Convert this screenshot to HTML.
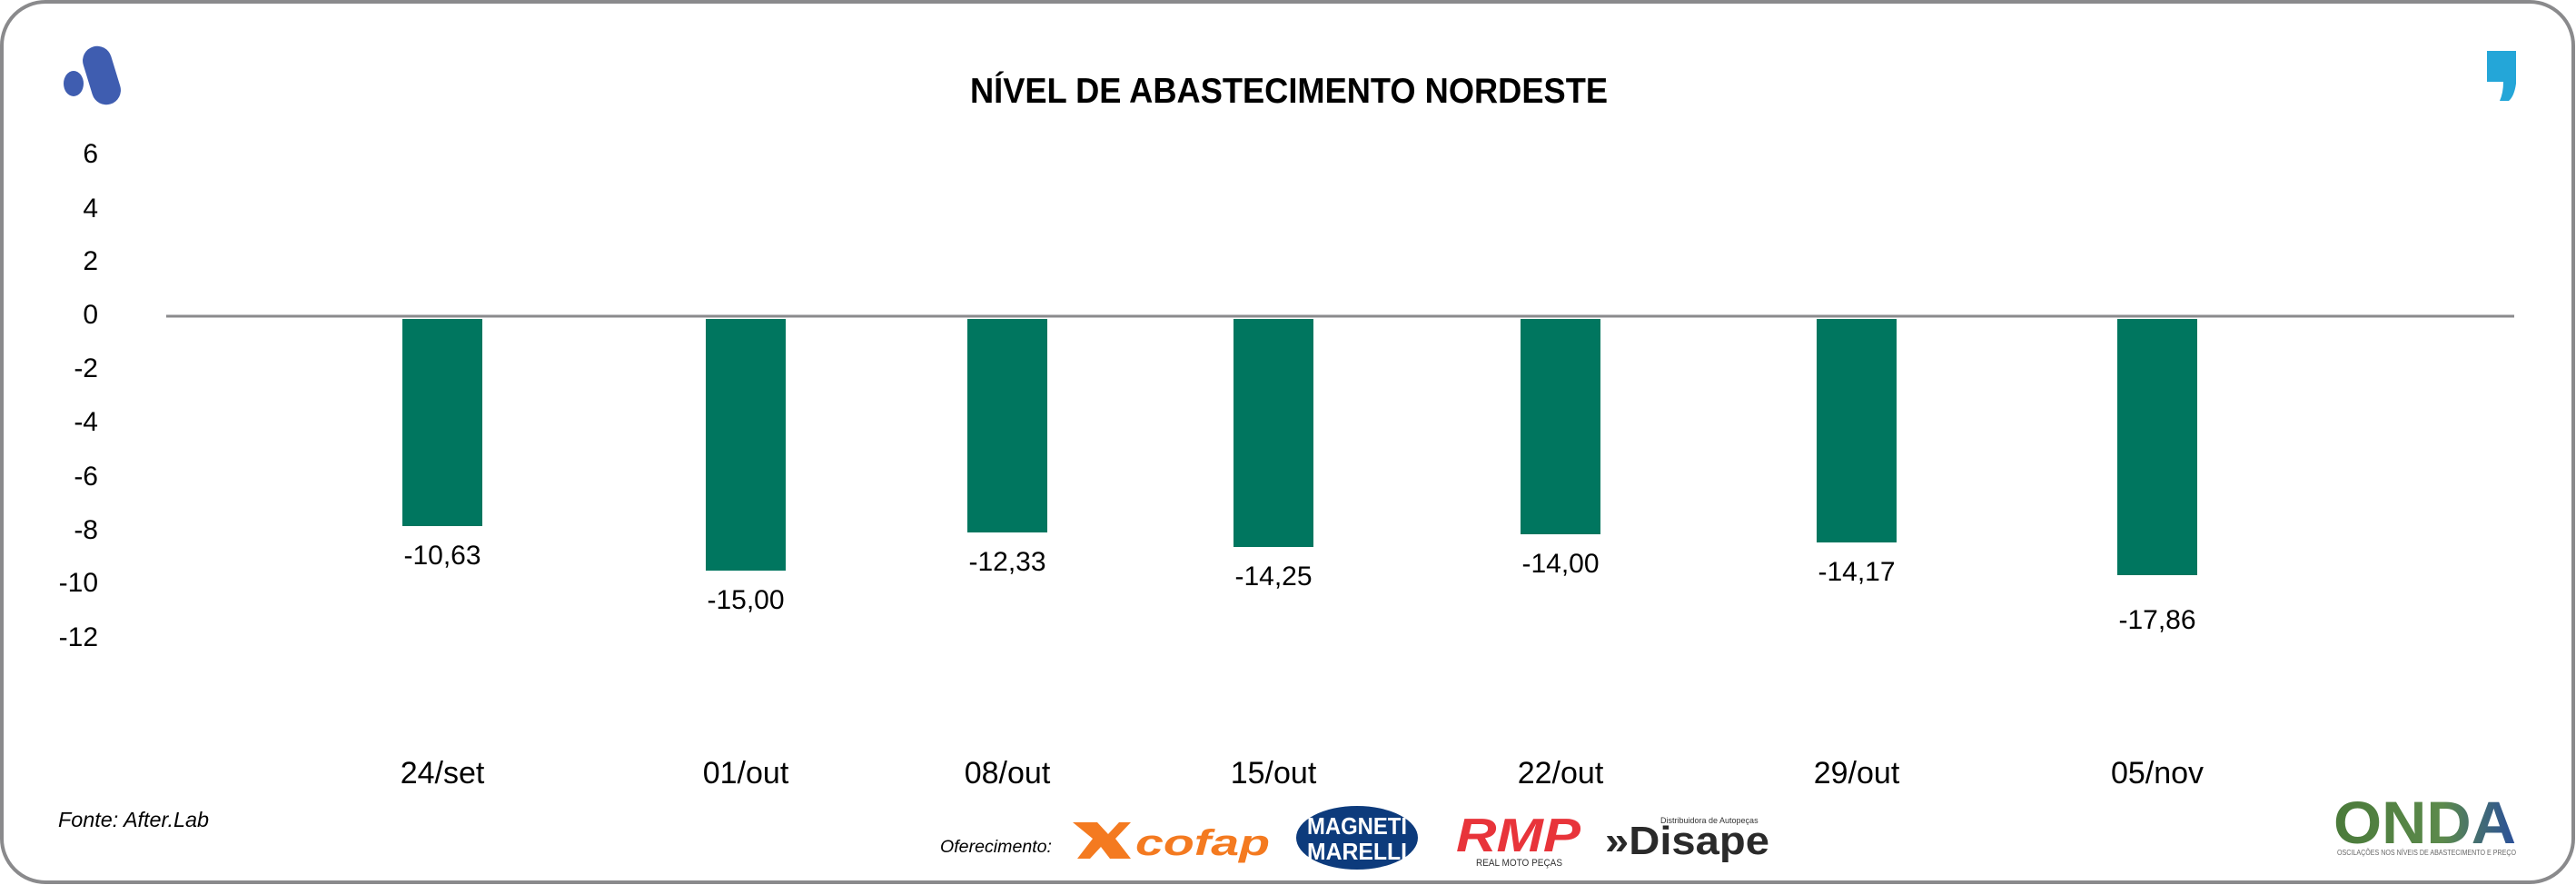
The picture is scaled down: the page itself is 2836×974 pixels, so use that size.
<!DOCTYPE html>
<html><head><meta charset="utf-8"><style>html,body{margin:0;padding:0;background:#fff}svg{display:block}</style></head>
<body>
<svg width="2836" height="974" viewBox="0 0 2836 974" xmlns="http://www.w3.org/2000/svg" font-family="Liberation Sans, sans-serif">
<rect x="2" y="2" width="2831" height="969" rx="48" ry="48" fill="#fff" stroke="#8a8a8c" stroke-width="4"/>
<!-- left logo -->
<rect x="96" y="50" width="32" height="66" rx="16" fill="#3f5db0" transform="rotate(-17 112 83)"/>
<ellipse cx="81" cy="92" rx="11" ry="14" fill="#3f5db0"/>
<!-- right comma -->
<path d="M2738 56 L2770 56 L2770 92 Q2768 106 2762 111 L2752 111 Q2756 102 2756 90 L2738 90 Z" fill="#24a6d8"/>
<text x="1068" y="113" font-size="39" font-weight="bold" textLength="702" lengthAdjust="spacingAndGlyphs">NÍVEL DE ABASTECIMENTO NORDESTE</text>
<g font-size="30" text-anchor="end" fill="#000">
<text x="108" y="179">6</text>
<text x="108" y="239">4</text>
<text x="108" y="297">2</text>
<text x="108" y="356">0</text>
<text x="108" y="415">-2</text>
<text x="108" y="474">-4</text>
<text x="108" y="534">-6</text>
<text x="108" y="593">-8</text>
<text x="108" y="651">-10</text>
<text x="108" y="711">-12</text>
</g>
<line x1="183" y1="348" x2="2768" y2="348" stroke="#8a8a8c" stroke-width="3"/>
<g fill="#00765f">
<rect x="443" y="351" width="88" height="228"/>
<rect x="777" y="351" width="88" height="277"/>
<rect x="1065" y="351" width="88" height="235"/>
<rect x="1358" y="351" width="88" height="251"/>
<rect x="1674" y="351" width="88" height="237"/>
<rect x="2000" y="351" width="88" height="246"/>
<rect x="2331" y="351" width="88" height="282"/>
</g>
<g font-size="30" text-anchor="middle" fill="#000">
<text x="487" y="621">-10,63</text>
<text x="821" y="670">-15,00</text>
<text x="1109" y="628">-12,33</text>
<text x="1402" y="644">-14,25</text>
<text x="1718" y="630">-14,00</text>
<text x="2044" y="639">-14,17</text>
<text x="2375" y="692">-17,86</text>
</g>
<g font-size="34" text-anchor="middle" fill="#000">
<text x="487" y="862">24/set</text>
<text x="821" y="862">01/out</text>
<text x="1109" y="862">08/out</text>
<text x="1402" y="862">15/out</text>
<text x="1718" y="862">22/out</text>
<text x="2044" y="862">29/out</text>
<text x="2375" y="862">05/nov</text>
</g>
<text x="64" y="910" font-size="23" font-style="italic" textLength="166" lengthAdjust="spacingAndGlyphs">Fonte: After.Lab</text>
<text x="1035" y="938" font-size="19" font-style="italic" textLength="123" lengthAdjust="spacingAndGlyphs">Oferecimento:</text>
<!-- cofap -->
<path d="M1181 905 L1208 905 L1220 918 L1232 905 L1245 905 L1228 923 L1245 945 L1222 945 L1212 932 L1200 945 L1186 945 L1203 923 Z" fill="#f47a20"/>
<text x="1250" y="941" font-size="40" font-weight="bold" font-style="italic" fill="#f47a20" textLength="148" lengthAdjust="spacingAndGlyphs">cofap</text>
<!-- magneti marelli -->
<ellipse cx="1494" cy="922" rx="67" ry="35" fill="#0d3b7c"/>
<text x="1494" y="918" font-size="26" font-weight="bold" fill="#fff" text-anchor="middle" textLength="110" lengthAdjust="spacingAndGlyphs">MAGNETI</text>
<text x="1494" y="946" font-size="26" font-weight="bold" fill="#fff" text-anchor="middle" textLength="110" lengthAdjust="spacingAndGlyphs">MARELLI</text>
<!-- RMP -->
<text x="1603" y="937" font-size="52" font-weight="bold" font-style="italic" fill="#e8343a" textLength="137" lengthAdjust="spacingAndGlyphs">RMP</text>
<text x="1625" y="953" font-size="11" fill="#333" textLength="95" lengthAdjust="spacingAndGlyphs">REAL MOTO PEÇAS</text>
<!-- Disape -->
<text x="1828" y="906" font-size="9" fill="#333">Distribuidora de Autopeças</text>
<text x="1767" y="940" font-size="44" font-weight="bold" fill="#2a2a2a" textLength="181" lengthAdjust="spacingAndGlyphs">»Disape</text>
<!-- ONDA -->
<defs><linearGradient id="og" x1="0" y1="0" x2="1" y2="0"><stop offset="0" stop-color="#4a7a3a"/><stop offset="0.6" stop-color="#5c8a4c"/><stop offset="1" stop-color="#2a4f9a"/></linearGradient></defs>
<text x="2569" y="928" font-size="66" font-weight="bold" fill="url(#og)" textLength="201" lengthAdjust="spacingAndGlyphs">ONDA</text>
<text x="2573" y="941" font-size="8" fill="#666" textLength="197" lengthAdjust="spacingAndGlyphs">OSCILAÇÕES NOS NÍVEIS DE ABASTECIMENTO E PREÇO</text>
</svg>
</body></html>
